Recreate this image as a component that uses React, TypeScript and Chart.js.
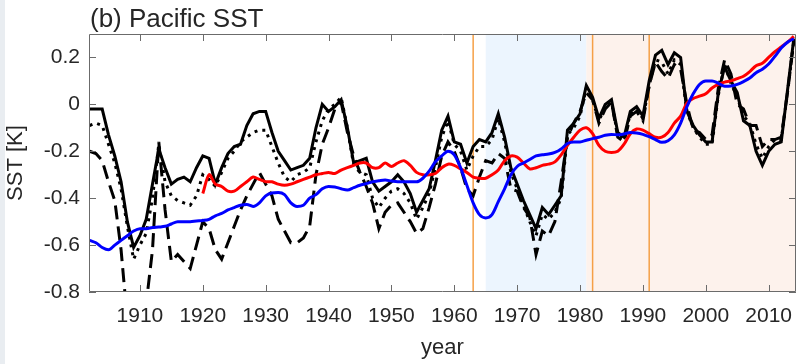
import React, { useEffect, useRef } from 'react';
import { Chart, registerables } from 'chart.js';

Chart.register(...registerables);

const START_YEAR = 1902;

const solidSST = [
  -0.02, -0.02, -0.02, -0.13, -0.22, -0.33, -0.50, -0.61, -0.56, -0.49,
  -0.34, -0.19, -0.27, -0.34, -0.32, -0.31, -0.33, -0.27, -0.22, -0.23,
  -0.34, -0.27, -0.21, -0.18, -0.17, -0.09, -0.04, -0.03, -0.03, -0.12,
  -0.20, -0.24, -0.28, -0.27, -0.26, -0.23, -0.10, 0.00, -0.03, -0.01,
  0.02, -0.10, -0.25, -0.24, -0.23, -0.33, -0.37, -0.35, -0.33, -0.30,
  -0.33, -0.38, -0.46, -0.41, -0.36, -0.24, -0.11, -0.05, -0.16, -0.17,
  -0.25, -0.18, -0.15, -0.16, -0.12, -0.04, -0.14, -0.27, -0.34, -0.41,
  -0.47, -0.53, -0.44, -0.47, -0.43, -0.39, -0.11, -0.08, -0.04, 0.08,
  0.03, -0.06, 0.00, 0.02, -0.12, -0.14, -0.03, -0.01, -0.05, 0.10,
  0.21, 0.23, 0.17, 0.22, 0.20, -0.03, -0.09, -0.13, -0.16, -0.16,
  0.05, 0.16, 0.10, 0.05, -0.07, -0.09, -0.20, -0.26, -0.20, -0.17,
  -0.16, 0.06, 0.28,
];

const dottedSST = [
  -0.09, -0.08, -0.09, -0.17, -0.25, -0.36, -0.52, -0.66, -0.60, -0.55,
  -0.40, -0.17, -0.33, -0.39, -0.41, -0.42, -0.43, -0.39, -0.30, -0.32,
  -0.35, -0.29, -0.23, -0.20, -0.16, -0.14, -0.12, -0.11, -0.11, -0.18,
  -0.25, -0.31, -0.33, -0.30, -0.29, -0.27, -0.16, -0.07, -0.02, 0.00,
  0.03, -0.10, -0.26, -0.29, -0.30, -0.40, -0.44, -0.40, -0.37, -0.36,
  -0.38, -0.42, -0.49, -0.44, -0.38, -0.27, -0.14, -0.07, -0.17, -0.20,
  -0.28, -0.22, -0.18, -0.18, -0.15, -0.06, -0.16, -0.29, -0.36, -0.43,
  -0.50, -0.56, -0.47, -0.49, -0.46, -0.40, -0.13, -0.10, -0.05, 0.07,
  0.02, -0.07, -0.01, 0.01, -0.13, -0.15, -0.04, -0.02, -0.06, 0.08,
  0.19, 0.18, 0.13, 0.19, 0.17, -0.03, -0.10, -0.14, -0.17, -0.17,
  0.04, 0.17, 0.09, 0.03, -0.05, -0.08, -0.17, -0.23, -0.18, -0.15,
  -0.15, 0.05, 0.27,
];

const dashedSST = [
  -0.20, -0.21, -0.24, -0.33, -0.41, -0.62, -0.92, -1.00, -0.98, -0.85,
  -0.62, -0.16, -0.45, -0.67, -0.64, -0.67, -0.70, -0.60, -0.50, -0.53,
  -0.62, -0.66, -0.59, -0.52, -0.45, -0.39, -0.34, -0.29, -0.34, -0.39,
  -0.49, -0.54, -0.59, -0.59, -0.57, -0.52, -0.30, -0.17, -0.10, -0.02,
  0.01, -0.12, -0.22, -0.29, -0.35, -0.42, -0.53, -0.46, -0.43, -0.42,
  -0.46, -0.50, -0.55, -0.53, -0.44, -0.34, -0.22, -0.16, -0.20, -0.27,
  -0.36, -0.39, -0.31, -0.24, -0.25, -0.21, -0.23, -0.36, -0.37, -0.44,
  -0.48, -0.64, -0.54, -0.56, -0.50, -0.33, -0.14, -0.08, -0.03, 0.05,
  0.02, -0.08, -0.02, 0.01, -0.14, -0.16, -0.05, -0.03, -0.07, 0.08,
  0.18, 0.14, 0.11, 0.17, 0.15, 0.00, -0.11, -0.12, -0.15, -0.13,
  0.07, 0.19, 0.13, 0.00, -0.02, -0.09, -0.09, -0.18, -0.15, -0.15,
  -0.14, 0.05, 0.27,
];

// red: 1920..2014
const RED_START = 1920;
const redSST = [
  -0.38, -0.30, -0.34, -0.35, -0.37, -0.37, -0.35, -0.33, -0.31, -0.32,
  -0.33, -0.33, -0.34, -0.345, -0.34, -0.33, -0.32, -0.31, -0.30, -0.295,
  -0.29, -0.295, -0.28, -0.27, -0.26, -0.25, -0.25, -0.27, -0.27, -0.25,
  -0.265, -0.25, -0.24, -0.26, -0.29, -0.30, -0.30, -0.295, -0.27, -0.255,
  -0.26, -0.275, -0.29, -0.31, -0.315, -0.315, -0.30, -0.28, -0.24, -0.22,
  -0.225, -0.25, -0.275, -0.27, -0.26, -0.255, -0.245, -0.215, -0.175, -0.14,
  -0.11, -0.10, -0.125, -0.175, -0.20, -0.205, -0.20, -0.17, -0.125, -0.105,
  -0.11, -0.125, -0.14, -0.14, -0.12, -0.08, -0.05, 0.005, 0.025, 0.035,
  0.045, 0.07, 0.085, 0.095, 0.10, 0.11, 0.12, 0.14, 0.165, 0.175,
  0.20, 0.225, 0.245, 0.265, 0.29,
];

const blueSST = [
  -0.58, -0.59, -0.61, -0.62, -0.60, -0.58, -0.56, -0.54, -0.53, -0.53,
  -0.525, -0.523, -0.52, -0.51, -0.50, -0.50, -0.50, -0.497, -0.495, -0.49,
  -0.475, -0.465, -0.45, -0.44, -0.43, -0.427, -0.435, -0.42, -0.39, -0.378,
  -0.376, -0.385, -0.42, -0.435, -0.43, -0.40, -0.385, -0.36, -0.35, -0.352,
  -0.36, -0.365, -0.355, -0.345, -0.338, -0.33, -0.326, -0.323, -0.327, -0.33,
  -0.33, -0.33, -0.33, -0.315, -0.285, -0.245, -0.22, -0.20, -0.215, -0.27,
  -0.345, -0.42, -0.47, -0.484, -0.47, -0.415, -0.36, -0.30, -0.265, -0.25,
  -0.235, -0.22, -0.215, -0.212, -0.205, -0.19, -0.167, -0.16, -0.16, -0.153,
  -0.146, -0.14, -0.132, -0.128, -0.13, -0.126, -0.12, -0.122, -0.128, -0.138,
  -0.15, -0.162, -0.155, -0.13, -0.08, -0.01, 0.045, 0.085, 0.10, 0.10,
  0.09, 0.077, 0.078, 0.085, 0.097, 0.112, 0.135, 0.15, 0.172, 0.205,
  0.24, 0.265, 0.28,
];

const xTickYears = [1910, 1920, 1930, 1940, 1950, 1960, 1970, 1980, 1990, 2000, 2010];
const yTickValues = [-0.8, -0.6, -0.4, -0.2, 0, 0.2];
const blueBand = [1965, 1981];
const pinkBand = [1981, 2014.35];
const orangeLines = [1963, 1982, 1991];
const X_MIN = 1901.9;
const X_MAX = 2014.35;
const Y_MIN = -0.8;
const Y_MAX = 0.3;
const TITLE = '(b) Pacific SST';

const TEXT_COLOR = '#262626';
const AXIS_COLOR = '#6b6b6b';

const toPts = (vals: number[], start: number) => vals.map((v, i) => ({ x: start + i, y: v }));

const decorPlugin = {
  id: 'decor',
  beforeDraw(chart: any) {
    const { ctx } = chart;
    ctx.save();
    ctx.fillStyle = '#e9edf1';
    ctx.fillRect(0, 0, 5, chart.height);
    ctx.restore();
  },
  beforeDatasetsDraw(chart: any) {
    const { ctx, chartArea: a, scales } = chart;
    const xs = scales.x;
    ctx.save();
    ctx.fillStyle = '#ecf5fe';
    const b0 = xs.getPixelForValue(blueBand[0]);
    const b1 = xs.getPixelForValue(blueBand[1]);
    ctx.fillRect(b0, a.top, b1 - b0, a.bottom - a.top);
    ctx.fillStyle = '#fdf2ec';
    const p0 = xs.getPixelForValue(pinkBand[0]);
    const p1 = Math.min(a.right, xs.getPixelForValue(pinkBand[1]));
    ctx.fillRect(p0, a.top, p1 - p0, a.bottom - a.top);
    ctx.strokeStyle = '#f5a047';
    ctx.lineWidth = 1.5;
    orangeLines.forEach((yr) => {
      const px = xs.getPixelForValue(yr);
      ctx.beginPath();
      ctx.moveTo(px, a.top);
      ctx.lineTo(px, a.bottom);
      ctx.stroke();
    });
    ctx.restore();
  },
  afterDatasetsDraw(chart: any) {
    const { ctx, chartArea: a, scales } = chart;
    const xs = scales.x;
    const ys = scales.y;
    const tl = 7;
    ctx.save();
    ctx.strokeStyle = AXIS_COLOR;
    ctx.lineWidth = 1;
    ctx.beginPath();
    ctx.rect(a.left + 0.5, a.top + 0.5, a.right - a.left - 1, a.bottom - a.top - 1);
    ctx.stroke();
    ctx.beginPath();
    xTickYears.forEach((yr) => {
      const px = Math.round(xs.getPixelForValue(yr)) + 0.5;
      ctx.moveTo(px, a.bottom);
      ctx.lineTo(px, a.bottom - tl);
      ctx.moveTo(px, a.top);
      ctx.lineTo(px, a.top + tl);
    });
    yTickValues.forEach((v) => {
      const py = Math.round(ys.getPixelForValue(v)) + 0.5;
      ctx.moveTo(a.left, py);
      ctx.lineTo(a.left + tl, py);
      ctx.moveTo(a.right, py);
      ctx.lineTo(a.right - tl, py);
    });
    ctx.stroke();
    ctx.restore();
  },
  afterDraw(chart: any) {
    const { ctx } = chart;
    ctx.save();
    ctx.fillStyle = TEXT_COLOR;
    ctx.font = '26px "Liberation Sans", Arial, sans-serif';
    ctx.textBaseline = 'middle';
    ctx.textAlign = 'left';
    ctx.fillText(TITLE, 90, 20);
    ctx.restore();
  },
};

export default function App() {
  const ref = useRef<HTMLCanvasElement | null>(null);
  useEffect(() => {
    if (!ref.current) return;
    Chart.defaults.font.family = '"Liberation Sans", Arial, sans-serif';
    Chart.defaults.color = TEXT_COLOR;
    const chart = new Chart(ref.current, {
      type: 'line',
      data: {
        datasets: [
          { label: 'blue', data: toPts(blueSST, START_YEAR), borderColor: '#0000ff', borderWidth: 3, pointRadius: 0, tension: 0.4, cubicInterpolationMode: 'monotone', order: 0 },
          { label: 'red', data: toPts(redSST, RED_START), borderColor: '#ff0000', borderWidth: 3, pointRadius: 0, tension: 0.3, order: 1 },
          { label: 'solid', data: toPts(solidSST, START_YEAR), borderColor: '#000000', borderWidth: 3, pointRadius: 0, tension: 0, clip: 0, order: 2 },
          { label: 'dotted', data: toPts(dottedSST, START_YEAR), borderColor: '#000000', borderWidth: 3, borderDash: [3, 5], pointRadius: 0, tension: 0, clip: 0, order: 3 },
          { label: 'dashed', data: toPts(dashedSST, START_YEAR), borderColor: '#000000', borderWidth: 3, borderDash: [14, 7], pointRadius: 0, tension: 0, clip: 0, order: 4 },
        ] as any,
      },
      options: {
        responsive: false,
        animation: false,
        devicePixelRatio: 1,
        layout: { autoPadding: false, padding: { left: 0, right: 0, top: 34, bottom: 0 } },
        plugins: { legend: { display: false }, tooltip: { enabled: false }, title: { display: false } },
        scales: {
          x: {
            type: 'linear', min: X_MIN, max: X_MAX,
            grid: { display: false, drawTicks: false }, border: { display: false },
            afterBuildTicks: (s: any) => { s.ticks = xTickYears.map((v) => ({ value: v })); },
            afterFit: (s: any) => { s.height = 72; s.paddingLeft = 0; s.paddingRight = 0; },
            ticks: { padding: 12, autoSkip: false, maxRotation: 0, font: { size: 21 }, color: TEXT_COLOR, callback: (v: any) => String(v) },
            title: { display: true, text: 'year', font: { size: 22 }, color: TEXT_COLOR, padding: { top: 0, bottom: 3 } },
          },
          y: {
            type: 'linear', min: Y_MIN, max: Y_MAX,
            grid: { display: false, drawTicks: false }, border: { display: false },
            afterBuildTicks: (s: any) => { s.ticks = yTickValues.map((v) => ({ value: v })); },
            afterFit: (s: any) => { s.width = 89; },
            ticks: { padding: 9, font: { size: 21 }, color: TEXT_COLOR, callback: (v: any) => { const n = Number(v); if (Math.abs(n) < 1e-9) return '0'; return n.toFixed(1); } },
            title: { display: true, text: 'SST [K]', font: { size: 22 }, color: TEXT_COLOR, padding: { top: 3, bottom: 0 } },
          },
        },
      },
      plugins: [decorPlugin],
    } as any);
    return () => chart.destroy();
  }, []);
  return (
    <div style={{ position: 'absolute', left: 0, top: 0, width: 796, height: 364, background: '#ffffff' }}>
      <canvas ref={ref} width={796} height={364} style={{ width: 796, height: 364, display: 'block' }} />
    </div>
  );
}
